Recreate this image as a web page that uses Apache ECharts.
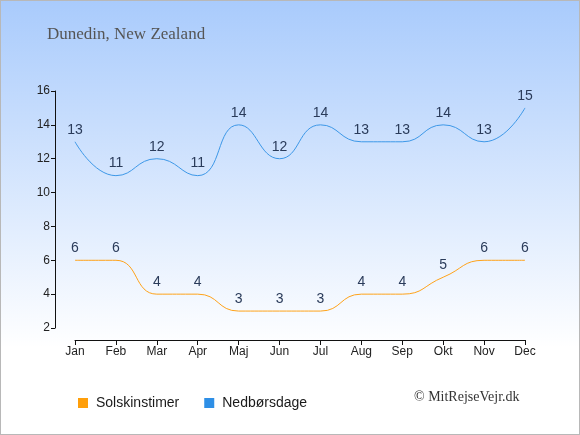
<!DOCTYPE html>
<html>
<head>
<meta charset="utf-8">
<script src="https://cdn.jsdelivr.net/npm/echarts@6/dist/echarts.min.js"></script>
<style>
html,body{margin:0;padding:0;}
#c{width:580px;height:435px;box-sizing:border-box;border:1px solid #b8b8b8;}
</style>
</head>
<body>
<div id="c"></div>
<script>
const months = ['Jan','Feb','Mar','Apr','Maj','Jun','Jul','Aug','Sep','Okt','Nov','Dec'];
const sunHours = [6,6,4,4,3,3,3,4,4,5,6,6];
const rainDays = [13,11,12,11,14,12,14,13,13,14,13,15];
const yTicks = {min:2, max:16, interval:2};

const chart = echarts.init(document.getElementById('c'));
const labelStyle = {show:true, position:'top', distance:5, color:'#2a3b5a', fontSize:14, fontFamily:'Liberation Sans, Arial, sans-serif'};
chart.setOption({
  backgroundColor: new echarts.graphic.LinearGradient(0,0,0,1,[
    {offset:0, color:'#a9cbfc'},
    {offset:0.8, color:'#ffffff'},
    {offset:1, color:'#ffffff'}
  ]),
  animation:false,
  title:{text:'Dunedin, New Zealand', left:41, top:20,
    textStyle:{fontFamily:'Liberation Serif, DejaVu Serif, serif', fontWeight:'normal', fontSize:17, color:'#555555'}},
  legend:{left:72, top:390, itemWidth:10, itemHeight:10, itemGap:25, icon:'rect',
    textStyle:{fontFamily:'Liberation Sans, Arial, sans-serif', fontSize:14, color:'#1a1a1a', padding:[0,0,0,3]},
    data:[{name:'Solskinstimer', itemStyle:{color:'#ff9f0a', opacity:1}}, {name:'Nedbørsdage', itemStyle:{color:'#2e8fe6', opacity:1}}]},
  graphic:[{type:'text', left:413, top:389, style:{text:'© MitRejseVejr.dk', fontFamily:'Liberation Serif, DejaVu Serif, serif', fontSize:14, fill:'#333'}}],
  grid:{left:74, right:54, top:90, bottom:106},
  xAxis:{type:'category', data:months, boundaryGap:false, offset:12,
    axisLine:{lineStyle:{color:'#111'}}, axisTick:{alignWithLabel:true, length:5, lineStyle:{color:'#111'}},
    axisLabel:{color:'#222', fontSize:12, fontFamily:'Liberation Sans, Arial, sans-serif', margin:6}},
  yAxis:{type:'value', min:yTicks.min, max:yTicks.max, interval:yTicks.interval, offset:20,
    splitLine:{show:false},
    axisLine:{show:true, lineStyle:{color:'#111'}}, axisTick:{show:true, length:4, lineStyle:{color:'#111'}},
    axisLabel:{color:'#222', fontSize:12, fontFamily:'Liberation Sans, Arial, sans-serif', margin:5}},
  series:[
    {name:'Solskinstimer', type:'line', data:sunHours, smooth:0.5, showSymbol:true, symbol:'circle', symbolSize:0.01,
      itemStyle:{color:'#ff9f0a'}, lineStyle:{color:'#ffa31a', width:1}, label:labelStyle},
    {name:'Nedbørsdage', type:'line', data:rainDays, smooth:0.5, showSymbol:true, symbol:'circle', symbolSize:0.01,
      itemStyle:{color:'#2e8fe6'}, lineStyle:{color:'#3d98e8', width:1}, label:labelStyle}
  ]
});
</script>
</body>
</html>
